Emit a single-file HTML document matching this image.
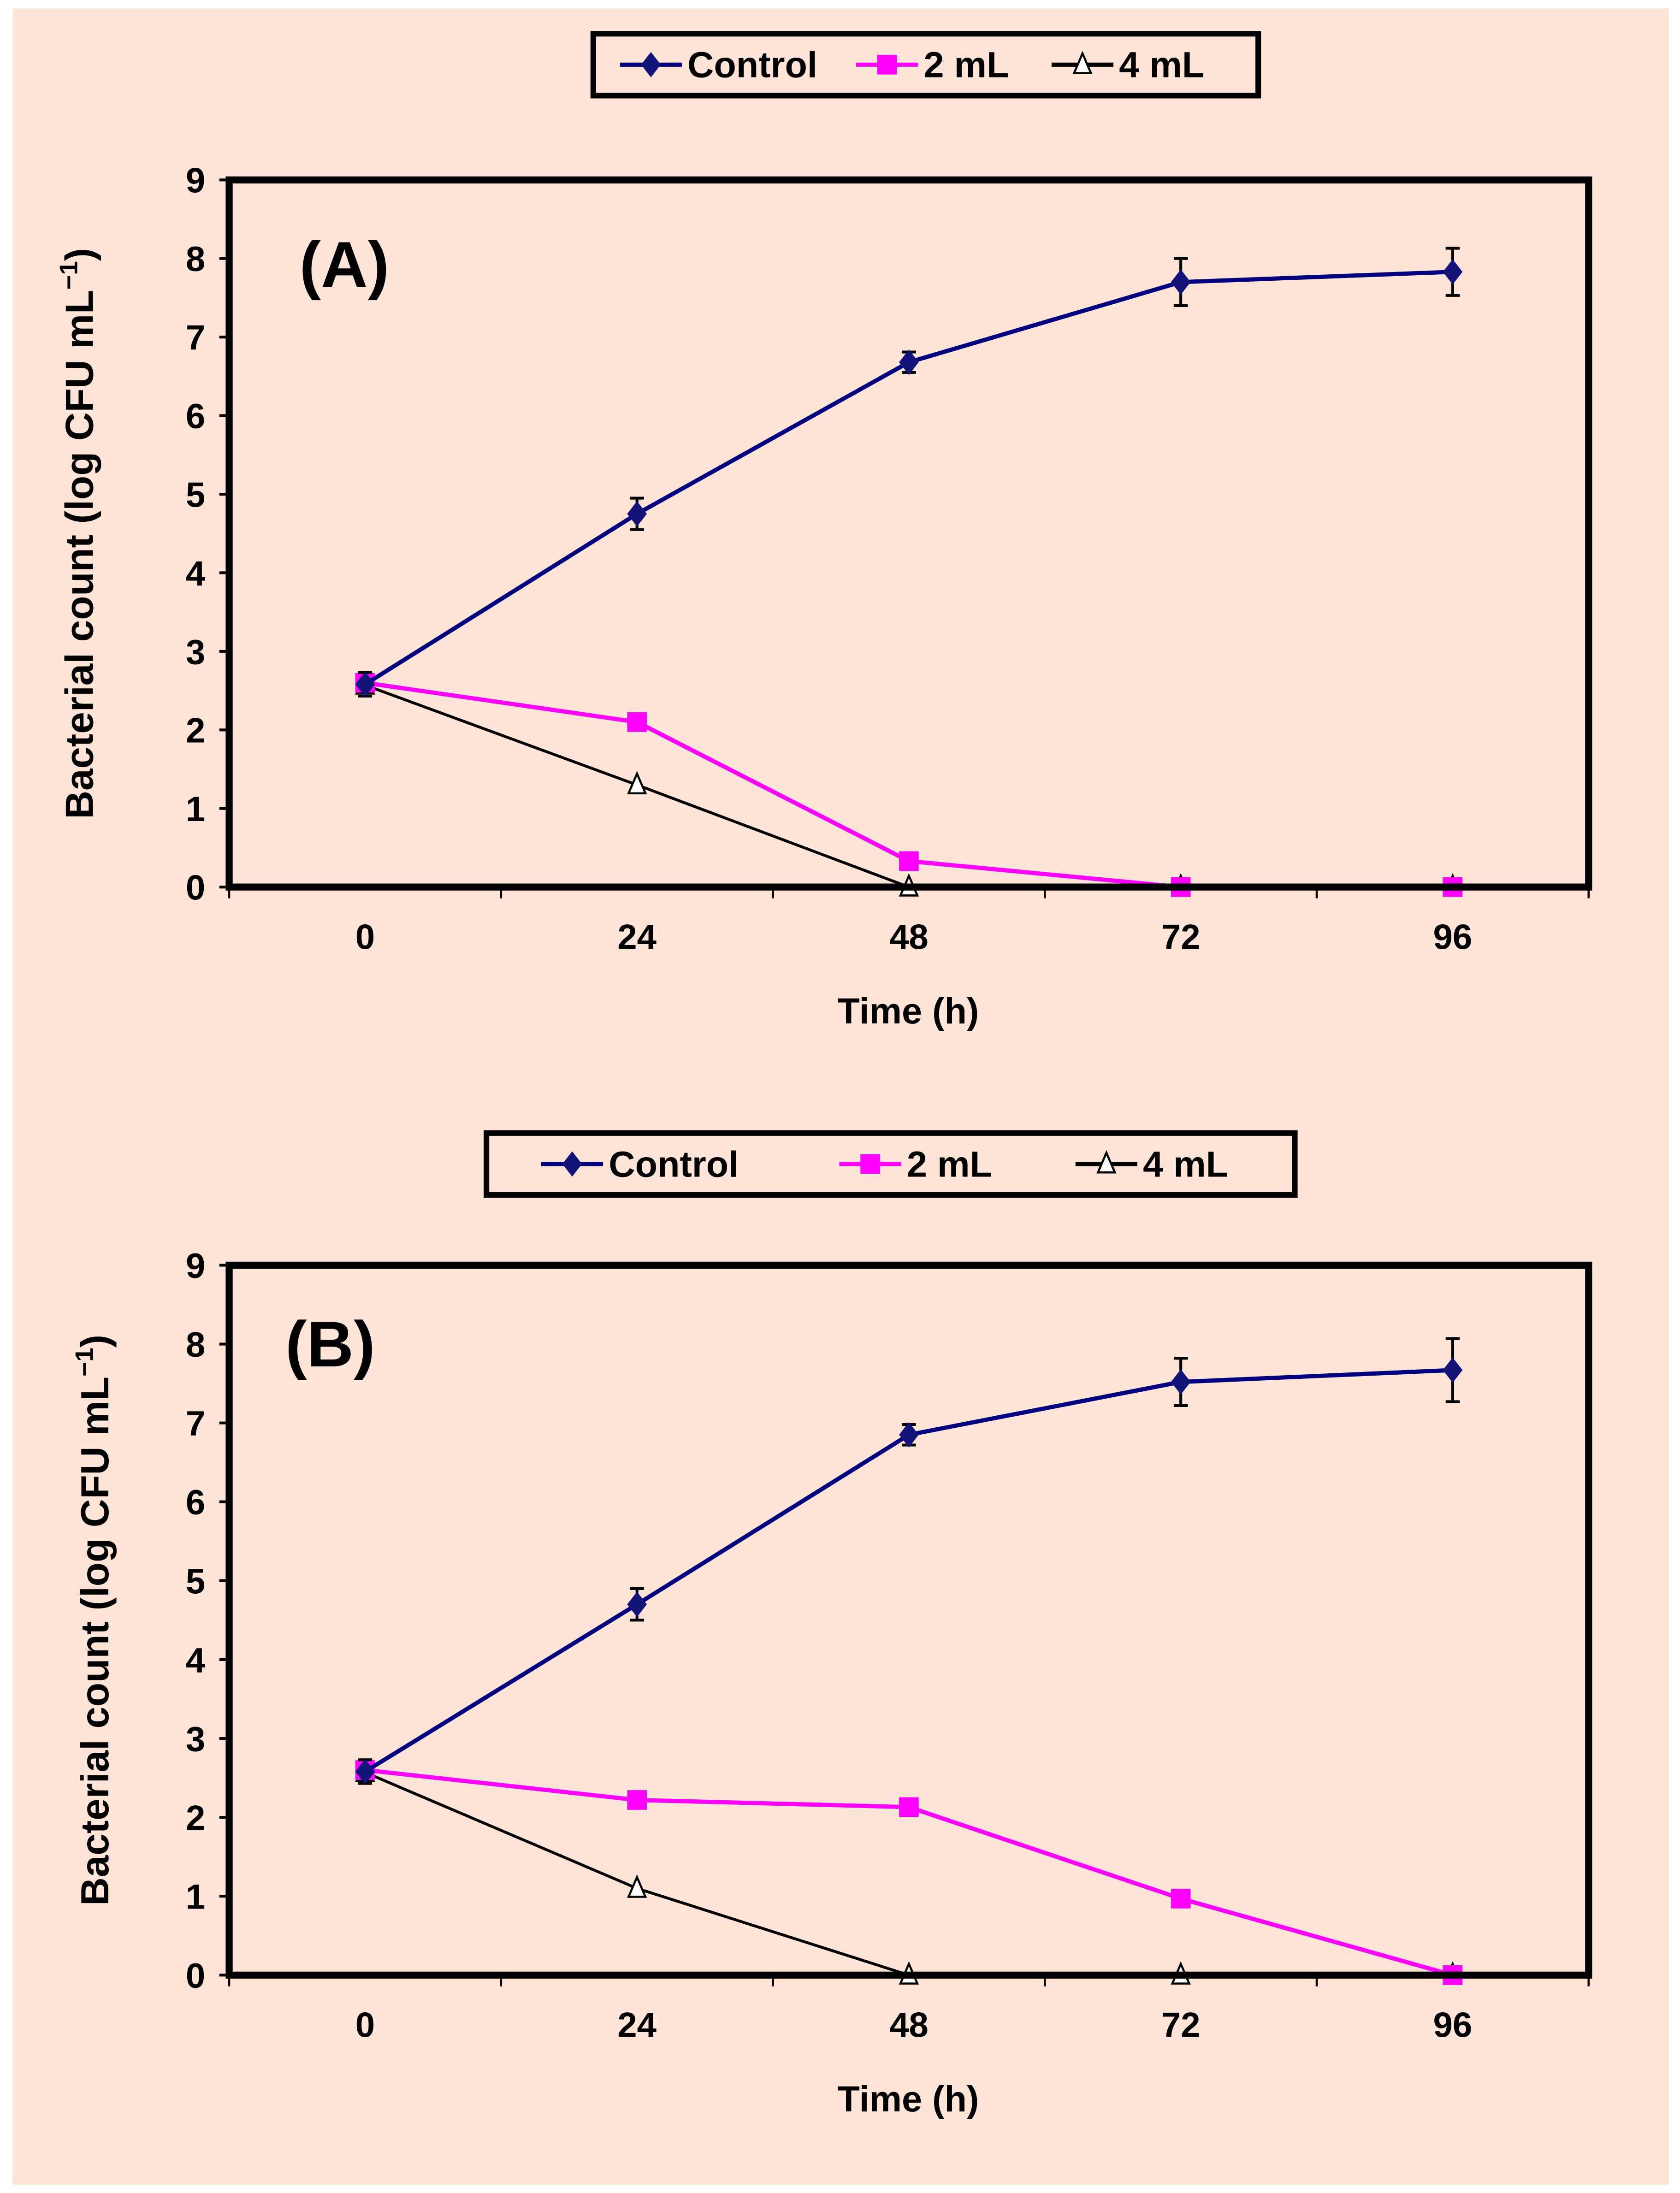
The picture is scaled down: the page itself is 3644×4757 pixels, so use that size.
<!DOCTYPE html>
<html><head><meta charset="utf-8"><style>
html,body{margin:0;padding:0;background:#fff;}
svg{display:block;}
text{font-family:"Liberation Sans",sans-serif;font-weight:bold;fill:#000;}
</style></head><body>
<svg id="fig" width="3644" height="4757" viewBox="0 0 1195 1560" xmlns="http://www.w3.org/2000/svg">
<rect x="9" y="6" width="1178" height="1548" fill="#FEE5D7"/>
</svg>
<script>
const categories = ["0","24","48","72","96"];
const yTicks = [0,1,2,3,4,5,6,7,8,9];
const seriesNames = ["Control","2 mL","4 mL"];
const controlA = [2.58,4.75,6.68,7.70,7.83];
const controlAErr = [0.15,0.2,0.13,0.3,0.3];
const ml2A = [2.60,2.10,0.33,0,0];
const ml2AErr = [0,0,0,0,0];
const ml4A = [2.57,1.30,0,0,0];
const controlB = [2.58,4.70,6.85,7.52,7.67];
const controlBErr = [0.15,0.2,0.13,0.3,0.4];
const ml2B = [2.60,2.22,2.13,0.97,0];
const ml2BErr = [0,0,0.1,0,0];
const ml4B = [2.57,1.10,0,0,0];

const NS="http://www.w3.org/2000/svg";
const svg=document.getElementById('fig');
function mk(tag,attrs,parent){const e=document.createElementNS(NS,tag);for(const k in attrs)e.setAttribute(k,attrs[k]);(parent||svg).appendChild(e);return e;}

function panel(cfg){
  const g=mk('g',{});
  
  
  const L=163,R=1130,T=cfg.top,B=cfg.bottom;
  const xs=i=>L+(R-L)/categories.length*(i+0.5);
  const ys=v=>B-(B-T)*v/9;
  const lg=mk('g',{},g);
  
  
  mk('rect',{x:cfg.lx,y:cfg.ly,width:cfg.lw,height:44,fill:'none',stroke:'#000','stroke-width':4},lg);
  const cy=cfg.ly+22;
  const colors=['#000080','#FF00FF','#000'];
  cfg.lpos.forEach((p,i)=>{
    const e=mk('g',{},lg);
    
    
    mk('line',{x1:p,y1:cy,x2:p+44,y2:cy,stroke:colors[i],'stroke-width':3},e);
    marker(e,i,p+22,cy);
    const t=mk('text',{x:p+48,y:cy+9,'font-size':26},e);t.textContent=seriesNames[i];
  });
  yTicks.forEach(v=>{
    mk('line',{x1:L-7,y1:ys(v),x2:L,y2:ys(v),stroke:'#000','stroke-width':2},g);
    const t=mk('text',{x:L-17,y:ys(v)+9,'font-size':25,'text-anchor':'end'},g);t.textContent=v;
    
    
  });
  for(let i=0;i<=categories.length;i++){
    const x=L+(R-L)/categories.length*i;
    mk('line',{x1:x,y1:B,x2:x,y2:B+8,stroke:'#000','stroke-width':1.5},g);
  }
  categories.forEach((c,i)=>{
    const t=mk('text',{x:xs(i),y:B+44,'font-size':25,'text-anchor':'middle'},g);t.textContent=c;
    
    
  });
  const xt=mk('text',{x:646,y:B+97,'font-size':26,'text-anchor':'middle'},g);xt.textContent='Time (h)';
  
  
  const yt=mk('text',{x:0,y:0,'font-size':28,'text-anchor':'middle',transform:`translate(${cfg.ytx},${(T+B)/2}) rotate(-90)`},g);
  yt.textContent='Bacterial count (log CFU mL';
  const sup=mk('tspan',{'font-size':18,dy:-11},yt);sup.textContent='\u22121';
  const cl=mk('tspan',{'font-size':28,dy:11},yt);cl.textContent=')';
  
  
  const pl=mk('text',{x:cfg.plx,y:cfg.ply,'font-size':46},g);pl.textContent=cfg.label;
  
  
  const data=[[cfg.c,cfg.ce],[cfg.m2,cfg.m2e],[cfg.m4,null]];
  [2,1,0].forEach(si=>{
    const s=mk('g',{},g);
    
    
    const vals=data[si][0],err=data[si][1];
    mk('polyline',{points:vals.map((v,i)=>xs(i)+','+ys(v)).join(' '),fill:'none',stroke:colors[si],'stroke-width':si===2?2:3},s);
    if(err) err.forEach((e,i)=>{ if(e>0){
      const x=xs(i);
      mk('line',{x1:x,y1:ys(vals[i]+e),x2:x,y2:ys(vals[i]-e),stroke:'#000','stroke-width':2},s);
      mk('line',{x1:x-5,y1:ys(vals[i]+e),x2:x+5,y2:ys(vals[i]+e),stroke:'#000','stroke-width':2},s);
      mk('line',{x1:x-5,y1:ys(vals[i]-e),x2:x+5,y2:ys(vals[i]-e),stroke:'#000','stroke-width':2},s);
    }});
    vals.forEach((v,i)=>{const m=marker(s,si,xs(i),ys(v));
      
      });
  });
  mk('rect',{x:L,y:T,width:R-L,height:B-T,fill:'none',stroke:'#000','stroke-width':5},g);
}
function marker(p,si,x,y){
  if(si===0) return mk('path',{d:`M${x},${y-9}L${x+7},${y}L${x},${y+9}L${x-7},${y}Z`,fill:'#141478'},p);
  if(si===1) return mk('rect',{x:x-7,y:y-7,width:14,height:14,fill:'#FF00FF'},p);
  return mk('path',{d:`M${x},${y-8}L${x+6},${y+6}L${x-6},${y+6}Z`,fill:'#fff',stroke:'#000','stroke-width':1.5},p);
}
panel({id:'a',label:'(A)',top:128,bottom:631,lx:422,ly:24,lw:473,lpos:[441,609,748],ytx:66,plx:213,ply:204,
  c:controlA,ce:controlAErr,m2:ml2A,m2e:ml2AErr,m4:ml4A});
panel({id:'b',label:'(B)',top:900,bottom:1405,lx:346,ly:806,lw:575,lpos:[385,597,765],ytx:77,plx:203,ply:972,
  c:controlB,ce:controlBErr,m2:ml2B,m2e:ml2BErr,m4:ml4B});
</script>
</body></html>
